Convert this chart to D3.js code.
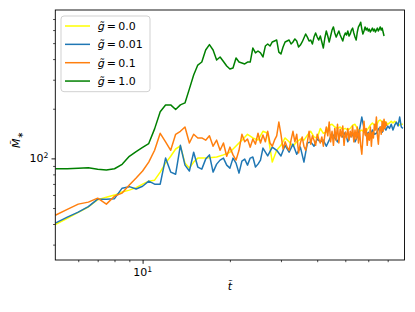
<!DOCTYPE html>
<html><head><meta charset="utf-8">
<script src="https://cdn.jsdelivr.net/npm/d3@7"></script>
<style>body{margin:0;background:#fff} svg{display:block;font-family:"DejaVu Sans",sans-serif}</style>
</head><body>
<svg id="c" width="415" height="312"></svg>
<script>
// ---------------- data ----------------
const seriesLabels = ["0.0", "0.01", "0.1", "1.0"];

const tYellow = [5,5.5,6,6.5,7,7.5,8,8.5,9,9.5,10,10.5,11,11.5,12,12.5,13,13.5,14,14.5,15,15.5,16,
  17,18,19,20,21,22,23,24,25,26,27,28,29,30,31,32,33,34,35,36,37,38,39,40,41,42,43,44,45,46,47,48,49,50,
  51,52,53,54,55,56,57,58,59,60,61,62,63,64,65,66,67,68,69,70,71,72,73,74,75,76,77,78,79];
const mYellow = [39.7,43.3,47.0,50.7,56.2,58.2,59.9,62.5,64.2,66.5,69.8,72.8,73.8,82.6,93.6,103,114,119,93.6,87.3,95,100.4,100.4,
  101,102,105,109,119,129,140,133,129,146,142,95,112,120,133,126,118.5,126,131,129,138.5,146,135,133,152,142,144,159,161,155,152,155,150,152,
  148.5,152,159,161,152,146,148.5,144,146,152,159,164,159,157,168,171,166,168,166,161,164,168,164,168,164,161,159,161,161];

const tBlue = [5,5.5,6,6.5,7,7.5,8,8.5,9,9.5,10,10.5,11,11.5,12,12.5,13,13.5,14,14.5,15,15.5,16,16.5,17,17.5,18,18.5,19,19.5,20,
  20.5,21,21.5,22,22.5,23,23.5,24,24.5,25,25.5,26,
  27,28,29,30,31,32,33,34,35,36,37,38,39,40,41,42,43,44,45,46,47,48,49,50,51,52,53,54,55,56,57,58,59,60,
  61,62,63,64,65,66,67,68,69,70,71,72,73,74,75,76,77,78,79];
const mBlue = [40.5,44.0,47.2,51.0,56.6,56.6,57.0,66.0,67.4,65.2,67.8,72.8,69.8,69.8,100.4,82.6,80.2,120,91,83.8,109,88.6,86.1,99,105,82.6,92.3,97.6,100.4,91,87.3,
  100.4,93.6,81.4,96.3,99,91,100.4,102,88.6,92.3,97.6,115.5,
  103.5,117,112,103.5,120,109,122,106,117,95,124,126,118.5,131,126,129,118.5,129,142,133,126,140,135,144,126,137,140,126,135,150,178,152,137,144,
  137,148.5,140,142,150,155,144,155,148.5,157,152,161,148.5,159,166,157,178,155,152];

const tHalf = [5,5.5,6,6.5,7,7.5,8,8.5,9,9.5,10,10.5,11,11.5,12,12.5,13,13.5,14,14.5,15,15.5,16,16.5,17,17.5,18,18.5,19,19.5,
  20,20.5,21,21.5,22,22.5,23,23.5,24,24.5,25,25.5,26,26.5,27,27.5,28,28.5,29,29.5,
  30,30.5,31,31.5,32,32.5,33,33.5,34,34.5,35,35.5,36,36.5,37,37.5,38,38.5,39,39.5,
  40,40.5,41,41.5,42,42.5,43,43.5,44,44.5,45,45.5,46,46.5,47,47.5,48,48.5,49,49.5,
  50,50.5,51,51.5,52,52.5,53,53.5,54,54.5,55,55.5,56,56.5,57,57.5,58,58.5,59,59.5,
  60,60.5,61,61.5,62,62.5,63,63.5,64,64.5,65,65.5,66,66.5,67,67.5,68,68.5,69,69.5];
const mOrange = [45.2,49.1,52.8,54.3,57.4,52.8,59,61.6,68.9,76,83.8,95,112,142,126,112,140,146,155,124,140,133,133,129,137,118.5,129,112,124,103,
  117,105,97.6,112,140,126,131,117,131,122,142,124,138.5,126,146,124,118.5,129,137,166,
  140,114,126,117,112,129,146,126,140,108,124,135,118.5,112,126,146,122,137,129,120,
  140,131,124,135,118.5,138.5,155,137,166,126,146,120,152,129,161,124,150,135,157,120,
  144,133,152,129,146,135,157,126,148.5,131,155,124,148.5,120,106,133,168,138.5,152,120,
  142,129,155,118.5,144,133,161,148.5,178,138.5,122,148.5,155,140,168,146,173,152,166,157];
const mGreen = [86.5,86.5,87,87.7,86,85,86.5,92,103,110,116.6,123,151,192,211,211,198,211,217,264,320,368,384,454,490,454,395,412,387,363,
  348,353,406,384,379,374,384,384,467,436,448,436,412,480,494,480,508,515,522,441,
  430,474,508,515,522,494,508,530,515,474,487,508,537,568,544,515,522,494,544,576,
  544,522,552,508,467,537,592,552,508,552,600,627,576,544,568,592,560,537,515,552,
  576,560,592,552,568,600,617,576,544,522,584,627,644,670,608,568,592,627,600,617,
  592,608,584,600,617,592,608,584,600,617,592,608,627,600,617,584,552];

const colors = ["#ffff00", "#1f77b4", "#ff7f0e", "#008000"];
const xDomain = [5, 80];
const yDomain = [24.2, 794];
const xMajorTicks = [10], xMinorTicks = [6,7,8,9,20,30,40,50,60,70];
const yMajorTicks = [100], yMinorTicks = [30,40,50,60,70,80,90,200,300,400,500,600,700];
const xMajorLabels = [["10","1"]], yMajorLabels = [["10","2"]];

// ---------------- chart ----------------
const svg = d3.select("#c");
const P = {l:55.3, r:404.5, t:10, b:260};
const x = d3.scaleLog().domain(xDomain).range([P.l, P.r]);
const y = d3.scaleLog().domain(yDomain).range([P.b, P.t]);

svg.append("defs").append("clipPath").attr("id","clip").append("rect")
  .attr("x",P.l).attr("y",P.t).attr("width",P.r-P.l).attr("height",P.b-P.t);

const series = [
  {t:tYellow, m:mYellow},
  {t:tBlue, m:mBlue},
  {t:tHalf, m:mOrange},
  {t:tHalf, m:mGreen}
];
const line = d3.line().x(d=>x(d[0])).y(d=>y(d[1]));
series.forEach((s,i)=>{
  svg.append("path").attr("d", line(d3.zip(s.t, s.m)))
    .attr("fill","none").attr("stroke",colors[i]).attr("stroke-width",1.5)
    .attr("stroke-linejoin","round").attr("clip-path","url(#clip)");
});

function styleAxis(g, w){ g.select(".domain").remove(); g.selectAll(".tick line").attr("stroke","#000").attr("stroke-width",w); }
const gxMin = svg.append("g").attr("transform",`translate(0,${P.b})`)
  .call(d3.axisBottom(x).tickValues(xMinorTicks).tickSize(2.2).tickSizeOuter(0).tickFormat(()=>""));
styleAxis(gxMin,0.7);
const gxMaj = svg.append("g").attr("transform",`translate(0,${P.b})`)
  .call(d3.axisBottom(x).tickValues(xMajorTicks).tickSize(3.8).tickSizeOuter(0).tickFormat(()=>""));
styleAxis(gxMaj,0.9);
const gyMin = svg.append("g").attr("transform",`translate(${P.l},0)`)
  .call(d3.axisLeft(y).tickValues(yMinorTicks).tickSize(2.2).tickSizeOuter(0).tickFormat(()=>""));
styleAxis(gyMin,0.7);
const gyMaj = svg.append("g").attr("transform",`translate(${P.l},0)`)
  .call(d3.axisLeft(y).tickValues(yMajorTicks).tickSize(3.8).tickSizeOuter(0).tickFormat(()=>""));
styleAxis(gyMaj,0.9);

xMajorTicks.forEach((v,i)=>{
  const t = svg.append("text").attr("x",x(v)).attr("y",276).attr("text-anchor","middle")
    .attr("font-size",11).attr("fill","#000");
  t.append("tspan").text(xMajorLabels[i][0]);
  t.append("tspan").attr("dy",-4.5).attr("font-size",7.7).text(xMajorLabels[i][1]);
});
yMajorTicks.forEach((v,i)=>{
  const t = svg.append("text").attr("x",48.5).attr("y",y(v)+4).attr("text-anchor","end")
    .attr("font-size",11).attr("fill","#000");
  t.append("tspan").text(yMajorLabels[i][0]);
  t.append("tspan").attr("dy",-4.5).attr("font-size",7.7).text(yMajorLabels[i][1]);
});

svg.append("rect").attr("x",P.l).attr("y",P.t).attr("width",P.r-P.l).attr("height",P.b-P.t)
  .attr("fill","none").attr("stroke","#000").attr("stroke-width",0.9);

// axis labels: letters with combining tilde
svg.append("text").attr("x",x(20)).attr("y",290).attr("text-anchor","middle")
  .attr("font-size",11).attr("font-style","italic").attr("fill","#000").text("t\u0303");

const ylt = svg.append("text").attr("transform","translate(20,140) rotate(-90)").attr("text-anchor","middle")
  .attr("font-size",11).attr("fill","#000");
ylt.append("tspan").attr("font-style","italic").text("M\u0303");
ylt.append("tspan").attr("font-size",8).attr("dy",2.5).text("\u2217");

// legend
const lg = svg.append("g");
lg.append("rect").attr("x",61).attr("y",16).attr("width",89).attr("height",75.7).attr("rx",3)
  .attr("fill","#fff").attr("fill-opacity",0.8).attr("stroke","#cccccc").attr("stroke-width",0.9);
seriesLabels.forEach((lab,i)=>{
  const cy = 26 + i*18.35;
  lg.append("line").attr("x1",65).attr("x2",90).attr("y1",cy).attr("y2",cy)
    .attr("stroke",colors[i]).attr("stroke-width",1.5);
  const t = lg.append("text").attr("x",97.7).attr("y",cy+4).attr("font-size",11).attr("fill","#000");
  t.append("tspan").attr("font-style","italic").text("g\u0303");
  t.append("tspan").text("\u2009=\u2009" + lab);
});
</script>
</body></html>
